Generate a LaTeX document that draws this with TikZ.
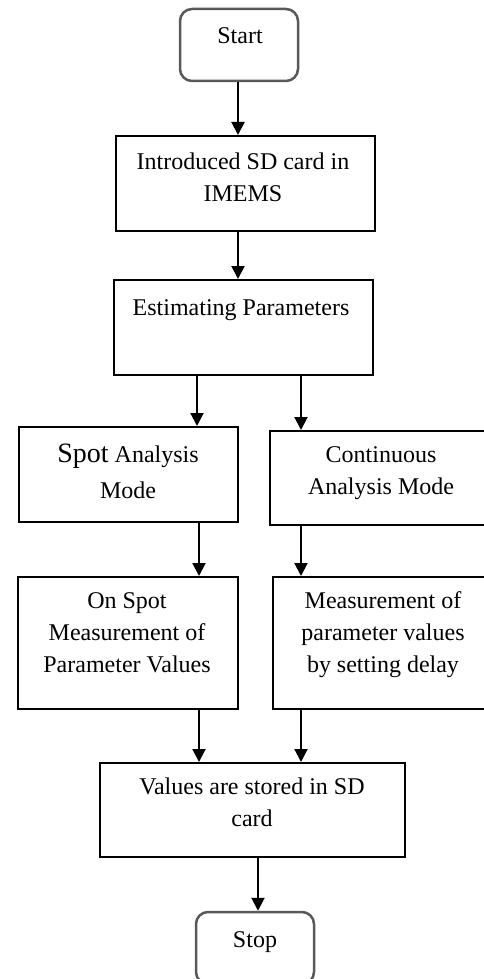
\documentclass[tikz,border=0pt]{standalone}
\usepackage{fontspec}
\setmainfont{Liberation Serif}
\usetikzlibrary{arrows.meta}

\tikzset{
  stepbox/.style={draw=black, line width=2pt, rectangle, inner sep=0pt, fill=white},
  termbox/.style={draw=black!65, line width=2.5pt, rectangle, rounded corners=12pt, inner sep=0pt, fill=white},
  txt/.style={anchor=north, inner sep=0pt, align=center, font=\fontsize{24}{32}\selectfont},
  arr/.style={line width=2pt, -{Triangle[length=13pt,width=13pt]}}
}

\begin{document}
\begin{tikzpicture}[x=1pt, y=-1pt]
  \useasboundingbox (0,0) rectangle (484,979);
  \fill[white] (0,0) rectangle (484,979);
  \clip (0,0) rectangle (484,979);

  % boxes
  \node[termbox, minimum width=118pt, minimum height=72pt] (start) at (239,45) {};
  \node[stepbox, minimum width=259pt, minimum height=95pt] (sd) at (245.5,183.5) {};
  \node[stepbox, minimum width=259pt, minimum height=95pt] (est) at (243.5,327.5) {};
  \node[stepbox, minimum width=219pt, minimum height=95pt] (spot) at (128.5,474.5) {};
  \node[stepbox, minimum width=222pt, minimum height=94pt] (cont) at (381,478) {};
  \node[stepbox, minimum width=220pt, minimum height=132pt] (onspot) at (128,643) {};
  \node[stepbox, minimum width=219pt, minimum height=132pt] (meas) at (382.5,643) {};
  \node[stepbox, minimum width=305pt, minimum height=94pt] (store) at (252.5,810) {};
  \node[termbox, minimum width=118pt, minimum height=72pt] (stop) at (255,948) {};

  % texts
  \node[txt] (tstart) at (240,20.6) {\strut Start};
  \node[txt] (tsd) at (243,146.6) {\strut Introduced SD card in\\IMEMS};
  \node[txt] (test) at (241,292.6) {\strut Estimating Parameters};
  \node[txt] (tspot) at (128,439.6) {\strut{\fontsize{28}{32}\selectfont Spot} Analysis\\[4pt]Mode};
  \node[txt] (tcont) at (381,439.6) {\strut Continuous\\Analysis Mode};
  \node[txt] (tonspot) at (127,585.6) {\strut On Spot\\Measurement of\\Parameter Values};
  \node[txt] (tmeas) at (383,585.6) {\strut Measurement of\\parameter values\\by setting delay};
  \node[txt] (tstore) at (252,771.6) {\strut Values are stored in SD\\card};
  \node[txt] (tstop) at (255,924.6) {\strut Stop};

  % connector columns
  \coordinate (xa) at (238,0);
  \coordinate (xl) at (197,0);
  \coordinate (xm) at (199,0);
  \coordinate (xr) at (301,0);
  \coordinate (xs) at (258,0);

  % connectors
  \draw[arr] (start.south -| xa) -- (sd.north -| xa);
  \draw[arr] (sd.south -| xa) -- (est.north -| xa);
  \draw[arr] (est.south -| xl) -- (spot.north -| xl);
  \draw[arr] (est.south -| xr) -- (cont.north -| xr);
  \draw[arr] (spot.south -| xm) -- (onspot.north -| xm);
  \draw[arr] (cont.south -| xr) -- (meas.north -| xr);
  \draw[arr] (onspot.south -| xm) -- (store.north -| xm);
  \draw[arr] (meas.south -| xr) -- (store.north -| xr);
  \draw[arr] (store.south -| xs) -- (stop.north -| xs);
\end{tikzpicture}
\end{document}
